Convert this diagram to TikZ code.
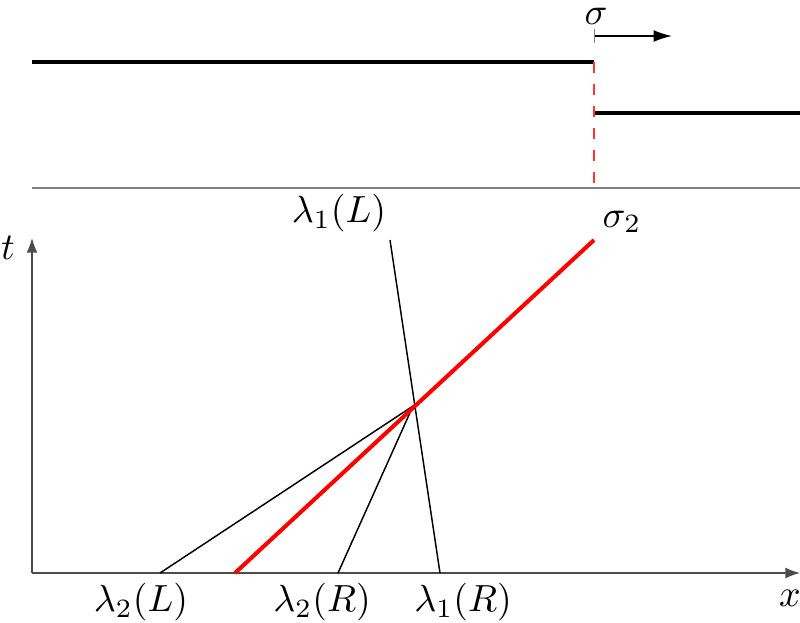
\documentclass[tikz,border=0pt]{standalone}
\usetikzlibrary{arrows.meta}
\begin{document}
\begin{tikzpicture}[x=0.2725pt,y=-0.2725pt,
  state/.style={line width=1.1pt,black},
  wave/.style={line width=0.4pt,black},
  shock/.style={line width=1.1pt,red},
  axis/.style={line width=0.4pt,black!70,-{Latex[length=4pt,width=3pt]}},
  lab/.style={inner sep=1pt,scale=1.03}]
\useasboundingbox (0,0) rectangle (800,622);
% top panel
\coordinate (l0) at (32,62);
\coordinate (l1) at (594,62);
\coordinate (r0) at (594,113);
\coordinate (r1) at (800,113);
\coordinate (d1) at (594,185);
\draw[state] (l0) -- (l1);
\draw[state] (r0) -- (r1);
\draw[red!80,dashed,line width=0.6pt] (l1) -- (d1);
\coordinate (sep0) at (32,188);
\coordinate (sep1) at (800,188);
\draw[black!50,line width=0.5pt] (sep0) -- (sep1);
\coordinate (a0) at (594,36);
\coordinate (a1) at (672,36);
\draw[line width=0.4pt,{Bar[width=4pt,black!50]}-{Latex[length=5pt,width=3.2pt]}] (a0) -- (a1);
\node[lab] (sig) at (596,16) {$\sigma$};
% axes
\coordinate (O) at (32,573);
\coordinate (T) at (32,238);
\coordinate (X) at (800,573);
\draw[axis] (O) -- (T);
\draw[axis] (O) -- (X);
\node[lab] (tl) at (8,248) {$t$};
\node[lab] (xl) at (790,598) {$x$};
% waves
\coordinate (P) at (413,406);
\coordinate (s0) at (235,573);
\coordinate (s1) at (594,240);
\coordinate (l1t) at (390,240);
\coordinate (l1b) at (440,573);
\coordinate (l2L) at (160,573);
\coordinate (l2R) at (338,573);
\draw[wave] (l1t) -- (l1b);
\draw[wave] (l2L) -- (P);
\draw[wave] (l2R) -- (P);
\draw[shock] (s0) -- (s1);
\node[lab] (n1) at (141,602) {$\lambda_2(L)$};
\node[lab] (n2) at (322,602) {$\lambda_2(R)$};
\node[lab] (n3) at (463,602) {$\lambda_1(R)$};
\node[lab] (n4) at (339,213) {$\lambda_1(L)$};
\node[lab] (n5) at (622,222) {$\sigma_2$};
\end{tikzpicture}
\end{document}
